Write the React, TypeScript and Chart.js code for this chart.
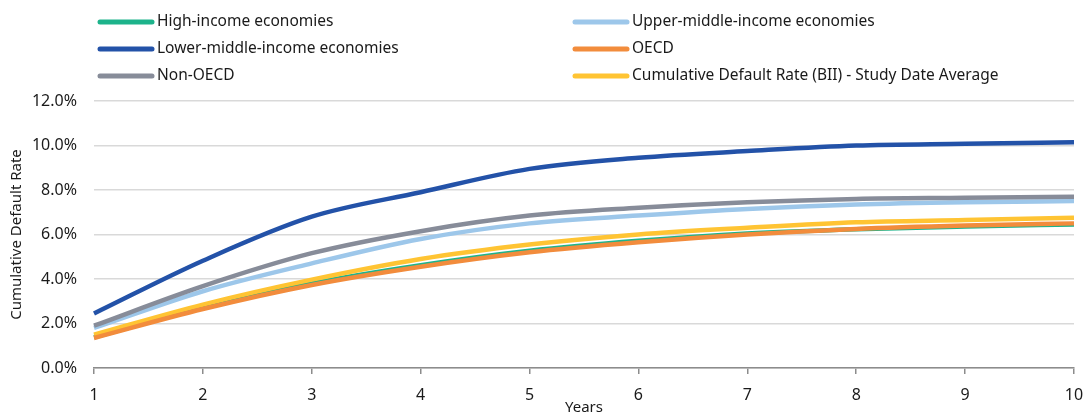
import React, { useEffect, useRef } from "react";
import { Chart, registerables } from "chart.js";

Chart.register(...registerables);

const years = ["1", "2", "3", "4", "5", "6", "7", "8", "9", "10"];
const highIncome = [1.38, 2.7, 3.8, 4.62, 5.27, 5.72, 6.05, 6.24, 6.36, 6.45];
const upperMiddle = [1.8, 3.45, 4.7, 5.8, 6.5, 6.85, 7.15, 7.35, 7.45, 7.5];
const lowerMiddle = [2.45, 4.82, 6.8, 7.9, 8.95, 9.45, 9.75, 10.0, 10.08, 10.15];
const oecd = [1.35, 2.65, 3.73, 4.55, 5.2, 5.65, 6.0, 6.25, 6.4, 6.5];
const nonOecd = [1.9, 3.68, 5.16, 6.15, 6.85, 7.2, 7.45, 7.6, 7.65, 7.7];
const biiAverage = [1.5, 2.85, 3.97, 4.9, 5.55, 6.0, 6.3, 6.55, 6.65, 6.75];
const yTicks = [0, 2, 4, 6, 8, 10, 12];

const FONT = "'Noto Sans', 'Open Sans', sans-serif";
const TEXT = "#1a1a1a";

const series = [
  { label: "High-income economies", data: highIncome, color: "#1db38b", order: 6, col: 0, row: 0 },
  { label: "Upper-middle-income economies", data: upperMiddle, color: "#9dc7ea", order: 5, col: 1, row: 0 },
  { label: "Lower-middle-income economies", data: lowerMiddle, color: "#2352a8", order: 1, col: 0, row: 1 },
  { label: "OECD", data: oecd, color: "#f28c3c", order: 2, col: 1, row: 1 },
  { label: "Non-OECD", data: nonOecd, color: "#878c99", order: 4, col: 0, row: 2 },
  { label: "Cumulative Default Rate (BII) - Study Date Average", data: biiAverage, color: "#ffc433", order: 3, col: 1, row: 2 },
];

const legendPlugin = {
  id: "twoColLegend",
  afterDraw(chart: any) {
    const ctx = chart.ctx;
    const colX = [100, 575];
    const rowY = [22, 49, 76];
    ctx.save();
    ctx.font = `15.5px ${FONT}`;
    ctx.textBaseline = "middle";
    ctx.textAlign = "left";
    series.forEach((s) => {
      const x = colX[s.col];
      const y = rowY[s.row];
      ctx.strokeStyle = s.color;
      ctx.lineWidth = 5;
      ctx.lineCap = "round";
      ctx.beginPath();
      ctx.moveTo(x, y);
      ctx.lineTo(x + 52, y);
      ctx.stroke();
      ctx.fillStyle = TEXT;
      ctx.fillText(s.label, x + 57, y);
    });
    ctx.restore();
  },
};

export default function App() {
  const ref = useRef<HTMLCanvasElement | null>(null);
  useEffect(() => {
    document.body.style.margin = "0";
    if (!ref.current) return;
    const chart = new Chart(ref.current, {
      type: "line",
      data: {
        labels: years,
        datasets: series.map((s) => ({
          label: s.label,
          data: s.data,
          borderColor: s.color,
          backgroundColor: s.color,
          borderWidth: 4.5,
          pointRadius: 0,
          tension: 0.35,
          cubicInterpolationMode: "monotone" as const,
          order: s.order,
          fill: false,
        })),
      },
      options: {
        animation: false,
        responsive: false,
        maintainAspectRatio: false,
        layout: { padding: { top: 101, right: 10, left: 8, bottom: 0 } },
        plugins: {
          legend: { display: false },
          tooltip: { enabled: false },
        },
        scales: {
          x: {
            type: "category",
            offset: false,
            grid: {
              display: true,
              drawOnChartArea: false,
              drawTicks: true,
              tickLength: 6,
              color: "#8c8c8c",
              lineWidth: 1.5,
            },
            border: { display: true, color: "#8c8c8c", width: 1.5 },
            ticks: { color: TEXT, font: { family: FONT, size: 16 }, padding: 12, maxRotation: 0 },
            title: {
              display: true,
              text: "Years",
              color: TEXT,
              font: { family: FONT, size: 15 },
              padding: { top: 0, bottom: -3 },
            },
            afterFit(scale: any) {
              scale.height = 46;
              scale.paddingLeft = 0;
              scale.paddingRight = 0;
            },
          },
          y: {
            min: 0,
            max: 12,
            afterBuildTicks(scale: any) {
              scale.ticks = yTicks.map((v) => ({ value: v }));
            },
            grid: { color: "#d9d9d9", lineWidth: 1.5, drawTicks: false },
            border: { display: false },
            ticks: {
              color: TEXT,
              font: { family: FONT, size: 16 },
              padding: 17,
              callback: (v: any) => Number(v).toFixed(1) + "%",
            },
            title: {
              display: true,
              text: "Cumulative Default Rate",
              color: TEXT,
              font: { family: FONT, size: 15 },
              padding: { top: 0, bottom: 0 },
            },
            afterFit(scale: any) {
              scale.width = 86;
            },
          },
        },
      },
      plugins: [legendPlugin],
    });
    return () => chart.destroy();
  }, []);
  return (
    <div style={{ width: 1084, height: 414, position: "relative", background: "#fff" }}>
      <canvas ref={ref} width={1084} height={414} style={{ width: 1084, height: 414, display: "block" }} />
    </div>
  );
}
